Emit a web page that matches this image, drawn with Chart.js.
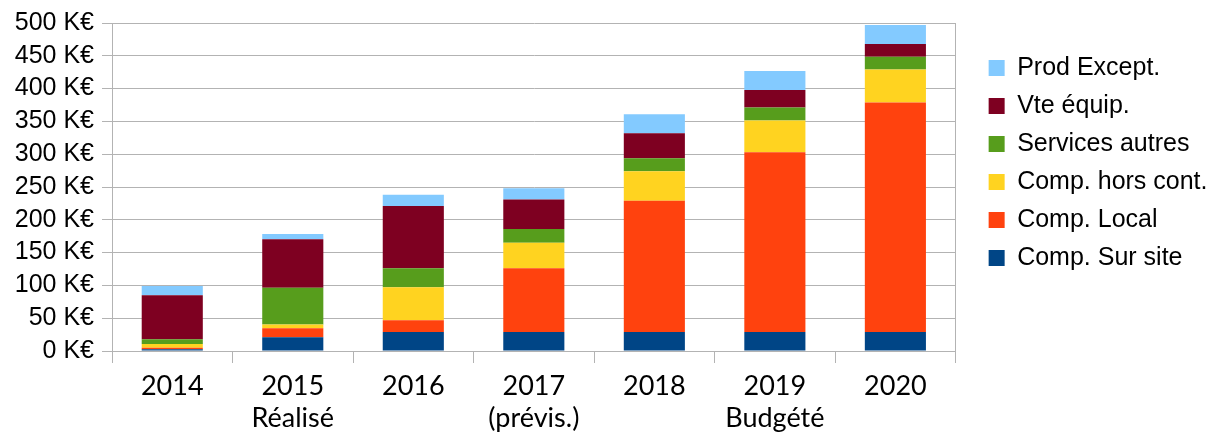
<!DOCTYPE html>
<html>
<head>
<meta charset="utf-8">
<script src="https://cdn.jsdelivr.net/npm/chart.js@4/dist/chart.umd.min.js"></script>
<style>
    html, body { margin: 0; padding: 0; background: #ffffff; }
    canvas { display: block; }
</style>
</head>
<body>
<canvas id="revenueChart" width="1213" height="432"></canvas>
<script>
const years = [["2014"], ["2015", "Réalisé"], ["2016"], ["2017", "(prévis.)"], ["2018"], ["2019", "Budgété"], ["2020"]];

const compSurSite = [2.5, 21, 29, 29, 29, 29, 29];
const compLocal = [2.5, 13.5, 18, 97, 200, 274, 350];
const compHorsCont = [5.5, 6, 50, 39, 45, 48.5, 50];
const servicesAutres = [7.5, 56, 29, 21, 20, 19.5, 19.5];
const vteEquip = [67, 74, 95, 45, 38, 27, 19.5];
const prodExcept = [14, 8, 17, 17, 29, 29, 29];

const yTicks = [0, 50, 100, 150, 200, 250, 300, 350, 400, 450, 500];

const gridGrey = "#b3b3b3";

function makeSet(label, data, color) {
    return {
        label: label,
        data: data,
        backgroundColor: color,
        borderWidth: 0
    };
}

// push the legend a bit away from the plot area (keeps the plot width)
const legendShift = {
    id: "legendShift",
    afterLayout(chart) {
        chart.legend.left += 20;
        chart.legend.right += 20;
    }
};

const ctx = document.getElementById("revenueChart");

new Chart(ctx, {
    type: "bar",
    data: {
        labels: years,
        datasets: [
            makeSet("Comp. Sur site", compSurSite, "#004586"),
            makeSet("Comp. Local", compLocal, "#ff420e"),
            makeSet("Comp. hors cont.", compHorsCont, "#ffd320"),
            makeSet("Services autres", servicesAutres, "#579d1c"),
            makeSet("Vte équip.", vteEquip, "#7e0021"),
            makeSet("Prod Except.", prodExcept, "#83caff")
        ]
    },
    plugins: [legendShift],
    options: {
        responsive: false,
        animation: false,
        layout: {
            padding: { top: 21, right: 15.5, bottom: 0, left: 0 }
        },
        datasets: {
            bar: {
                categoryPercentage: 1,
                barPercentage: 0.507
            }
        },
        scales: {
            x: {
                stacked: true,
                afterFit: function (scale) { scale.height = 81; },
                grid: {
                    offset: true,
                    color: c => (c.type === "scale" || c.index === 0) ? gridGrey : "rgba(0,0,0,0)",
                    tickColor: gridGrey,
                    tickLength: 12,
                    lineWidth: 1
                },
                border: { display: true, color: gridGrey },
                ticks: {
                    color: "#000000",
                    padding: 7,
                    maxRotation: 0,
                    font: { family: "Lato, 'DejaVu Sans Condensed', sans-serif", size: 27 }
                }
            },
            y: {
                stacked: true,
                min: 0,
                max: 500,
                afterFit: function (scale) { scale.width = 112; },
                afterBuildTicks: function (scale) {
                    scale.ticks = yTicks.map(v => ({ value: v }));
                },
                grid: {
                    color: gridGrey,
                    tickColor: gridGrey,
                    tickLength: 10,
                    lineWidth: 1
                },
                border: { display: true, color: gridGrey },
                ticks: {
                    autoSkip: false,
                    color: "#000000",
                    padding: 8,
                    font: { family: "'Liberation Sans', Arial, sans-serif", size: 25 },
                    callback: v => v + " K€"
                }
            }
        },
        plugins: {
            tooltip: { enabled: false },
            legend: {
                position: "right",
                align: "start",
                reverse: true,
                title: {
                    display: true,
                    text: "",
                    font: { size: 12 },
                    padding: { top: 0, bottom: 7 }
                },
                labels: {
                    boxWidth: 16,
                    boxHeight: 16,
                    padding: 13,
                    color: "#000000",
                    font: { family: "'Liberation Sans', Arial, sans-serif", size: 25 }
                }
            }
        }
    }
});
</script>
</body>
</html>
